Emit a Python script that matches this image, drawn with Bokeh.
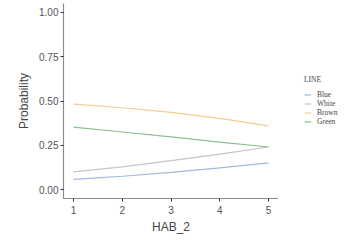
from bokeh.plotting import figure
from bokeh.models import Legend, LegendItem, Range1d, FixedTicker
from bokeh.layouts import row
from bokeh.embed import file_html
from bokeh.resources import INLINE

hab = [1, 2, 3, 4, 5]
blue = [0.057, 0.075, 0.097, 0.122, 0.150]
white = [0.100, 0.128, 0.163, 0.200, 0.240]
brown = [0.482, 0.462, 0.436, 0.402, 0.360]
green = [0.352, 0.325, 0.297, 0.268, 0.240]
names = ["Blue", "White", "Brown", "Green"]
colors = ["#9db9dc", "#c4c4c4", "#f0cf8e", "#8dbf8d"]
series = [blue, white, brown, green]

p = figure(width=278, height=238, output_backend="svg", toolbar_location=None,
           x_range=Range1d(0.795, 5.205), y_range=Range1d(-0.0508, 1.0508),
           min_border_left=63, min_border_right=0, min_border_top=3, min_border_bottom=40)
p.outline_line_color = None
p.grid.grid_line_color = None
p.background_fill_color = "white"

for n, c, s in zip(names, colors, series):
    p.line(hab, s, line_color=c, line_width=1.2)

for ax in (p.xaxis, p.yaxis):
    ax.axis_line_color = "#8a8a8a"
    ax.axis_line_width = 1.2
    ax.major_tick_line_color = "#333333"
    ax.major_tick_in = 0
    ax.major_tick_out = 3
    ax.minor_tick_line_color = None
    ax.major_label_text_font = "Liberation Sans"
    ax.major_label_text_font_size = "10px"
    ax.major_label_text_color = "#555555"
    ax.axis_label_text_font = "Liberation Sans"
    ax.axis_label_text_font_style = "normal"
    ax.axis_label_text_color = "#444444"

p.xaxis.ticker = FixedTicker(ticks=[1, 2, 3, 4, 5])
p.yaxis.ticker = FixedTicker(ticks=[0, 0.25, 0.5, 0.75, 1.0])
p.yaxis.major_label_overrides = {0: "0.00", 0.25: "0.25", 0.5: "0.50", 0.75: "0.75", 1.0: "1.00"}
p.xaxis.axis_label = "HAB_2"
p.yaxis.axis_label = "Probability"
p.xaxis.axis_label_text_font_size = "12px"
p.yaxis.axis_label_text_font_size = "12px"
p.xaxis.major_label_standoff = 4
p.yaxis.major_label_standoff = 2
p.xaxis.axis_label_standoff = 3
p.yaxis.axis_label_standoff = 5

# legend panel
lg = figure(width=64, height=238, output_backend="svg", toolbar_location=None,
            x_range=Range1d(0, 1), y_range=Range1d(0, 1),
            x_axis_location=None, y_axis_location=None,
            min_border_left=0, min_border_right=0, min_border_top=0, min_border_bottom=0)
lg.outline_line_color = None
lg.grid.grid_line_color = None
items = []
for n, c in zip(names, colors):
    r = lg.line(x=[float("nan")], y=[float("nan")], line_color=c, line_width=1.2)
    items.append(LegendItem(label=n, renderers=[r]))

legend = Legend(items=items, location=(26, 72), title="LINE", margin=0,
                title_text_font="Liberation Serif", title_text_font_size="7.5px",
                title_text_font_style="normal",
                title_text_color="#444444", title_standoff=6,
                label_text_font="Liberation Serif", label_text_font_size="7.5px",
                label_text_color="#444444",
                glyph_height=9, glyph_width=7, label_height=9, label_standoff=6,
                spacing=0, padding=2, border_line_color=None, background_fill_alpha=0)
lg.add_layout(legend, "center")

open("out.html", "w").write(file_html(row(p, lg), INLINE))
